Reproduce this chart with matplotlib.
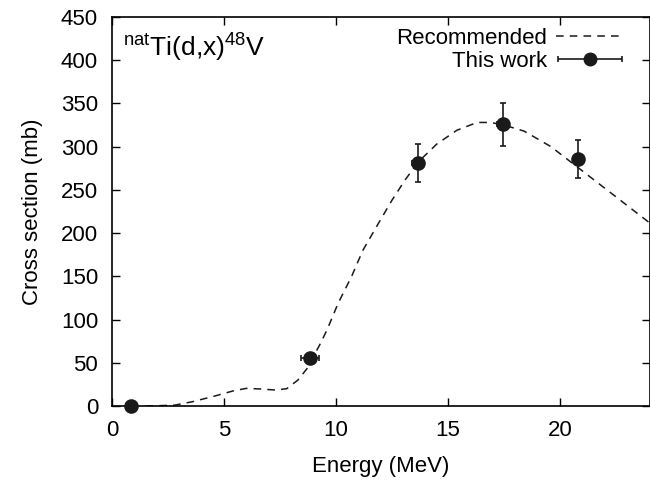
import numpy as np
import matplotlib
matplotlib.use("Agg")
import matplotlib.pyplot as plt
from matplotlib.container import ErrorbarContainer
from matplotlib.legend_handler import HandlerErrorbar

plt.rcParams['font.family'] = ['Liberation Sans', 'DejaVu Sans']
plt.rcParams['mathtext.fontset'] = 'custom'
plt.rcParams['mathtext.rm'] = 'Liberation Sans'
plt.rcParams['font.size'] = 16

# Recommended curve
rec_energy = [1.5, 2.0, 2.8, 3.6, 4.6, 5.4, 6.0, 6.6, 7.3, 7.8, 8.3, 8.7, 9.3,
              9.6, 10.1, 10.7, 11.2, 11.8, 12.5, 13.1, 13.7, 14.5, 15.4, 16.3,
              16.9, 17.5, 18.4, 19.6, 20.2, 21.0, 21.9, 23.1, 24.0]
rec_xs = [0, 0.3, 1, 5, 11.6, 17.4, 20.4, 19.7, 18.5, 20, 30, 43, 72,
          88, 119, 150, 180, 207, 238, 262, 283, 303, 319, 328,
          328, 325, 318, 300, 288, 272, 254, 230, 212]

# This work
exp_energy = [0.85, 8.85, 13.65, 17.45, 20.8]
exp_xs = [0, 55, 281, 326, 286]
exp_dx = [0, 0.4, 0.25, 0.25, 0.15]
exp_dxs = [0, 3, 22, 25, 22]

col = '#1a1a1a'
fig = plt.figure(figsize=(6.5, 4.8), dpi=100)
ax = fig.add_axes([112/650, 74/480, 537.5/650, 389/480])

rec_line, = ax.plot(rec_energy, rec_xs, color=col, lw=1.1,
                    linestyle=(0, (5, 4)))
ax.errorbar(exp_energy, exp_xs, xerr=exp_dx, yerr=exp_dxs, fmt='o',
            color=col, ms=9.5, elinewidth=1.2, capsize=2.5, capthick=1.2,
            clip_on=False, zorder=3)
# legend proxy: horizontal bar with caps, like gnuplot
proxy = ax.errorbar([np.nan], [np.nan], xerr=[0.1], fmt='o', color=col,
                    ms=9, elinewidth=1.2, capsize=2.5, capthick=1.2)

ax.set_xlim(0, 24)
ax.set_ylim(0, 450)
ax.set_xticks([0, 5, 10, 15, 20])
ax.set_yticks(range(0, 451, 50))
ax.tick_params(direction='in', length=6, width=1, top=True, right=True,
               pad=10, labelsize=16)
for s in ax.spines.values():
    s.set_linewidth(1.2)

ax.set_xlabel('Energy (MeV)', fontsize=16, labelpad=11)
ax.set_ylabel('Cross section (mb)', fontsize=16, labelpad=13)

ax.text(0.02, 0.925, r'$^{\rm nat}$Ti(d,x)$^{48}$V', transform=ax.transAxes,
        fontsize=19, va='center', ha='left')

ax.legend([rec_line, proxy], ['Recommended', 'This work'],
          loc='upper right', bbox_to_anchor=(0.9526, 0.972), frameon=False,
          markerfirst=False, handlelength=3.06, handletextpad=0.4,
          labelspacing=0.08, fontsize=16, borderaxespad=0, borderpad=0,
          handler_map={ErrorbarContainer: HandlerErrorbar(xerr_size=1.42)})

fig.savefig('out.png', dpi=100)
